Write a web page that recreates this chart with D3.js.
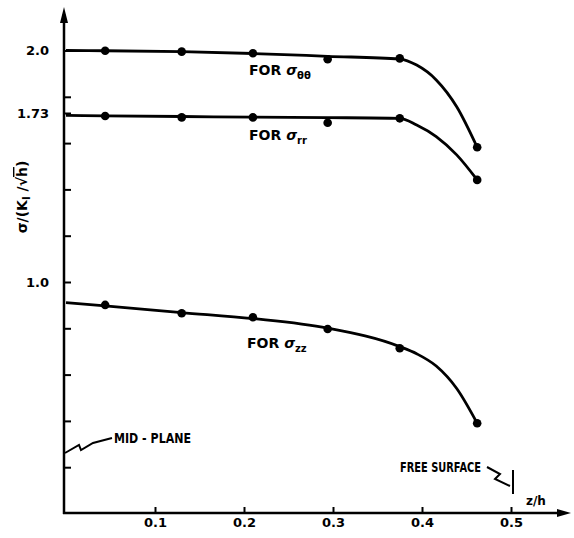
<!DOCTYPE html>
<html>
<head>
<meta charset="utf-8">
<script src="https://cdn.jsdelivr.net/npm/d3@7"></script>
<style>
  html, body { margin: 0; padding: 0; background: #fff; }
  svg { display: block; }
  text { font-family: "DejaVu Sans", "Liberation Sans", sans-serif; font-weight: bold; fill: #000; }
</style>
</head>
<body>
<svg id="chart" width="574" height="538"></svg>
<script>
// ---- data ----
const zPoints = [0.044, 0.130, 0.210, 0.294, 0.375, 0.462];
const sigmaThetaPoints = [1.999, 1.995, 1.988, 1.962, 1.966, 1.582];
const sigmaRRPoints    = [1.717, 1.711, 1.711, 1.688, 1.707, 1.441];
const sigmaZZPoints    = [0.901, 0.865, 0.848, 0.797, 0.714, 0.390];

// smooth fitted curves (as drawn in the figure)
const zCurve          = [0, 0.044, 0.130, 0.210, 0.294, 0.375, 0.394, 0.416, 0.439, 0.462];
const sigmaThetaCurve = [2.000, 1.999, 1.995, 1.987, 1.975, 1.963, 1.937, 1.873, 1.757, 1.582];
const sigmaRRCurve    = [1.720, 1.718, 1.715, 1.712, 1.710, 1.707, 1.678, 1.628, 1.549, 1.441];
const sigmaZZCurve    = [0.911, 0.897, 0.868, 0.842, 0.801, 0.721, 0.690, 0.637, 0.540, 0.390];

const xTickValues = [0.1, 0.2, 0.3, 0.4, 0.5];
const yTickValues = [0.2, 0.4, 0.6, 0.8, 1.0, 1.2, 1.4, 1.6, 1.73, 1.8, 2.0];
const yLabelledTicks = [1.0, 1.73, 2.0];

// ---- drawing ----
const svg = d3.select("#chart");
const x = d3.scaleLinear().domain([0, 0.5]).range([66, 511]);
const y = d3.scaleLinear().domain([0, 2.0]).range([513.5, 50.5]);
const axisX = 64, axisY = 513;

// x axis
const gx = svg.append("g").attr("transform", `translate(0,${axisY})`)
  .call(d3.axisBottom(x).tickValues(xTickValues).tickSizeInner(-6).tickSizeOuter(0)
        .tickPadding(5).tickFormat(d3.format(".1f")));
gx.select(".domain").remove();
gx.selectAll(".tick line").attr("stroke", "#000").attr("stroke-width", 2);
gx.selectAll(".tick text").attr("font-size", 13).attr("font-family", "DejaVu Sans").attr("font-weight", "bold");

// y axis
const gy = svg.append("g").attr("transform", `translate(${axisX},0)`)
  .call(d3.axisLeft(y).tickValues(yTickValues).tickSizeInner(-7).tickSizeOuter(0)
        .tickPadding(15)
        .tickFormat(d => yLabelledTicks.includes(d) ? (d === 1.73 ? "1.73" : d3.format(".1f")(d)) : ""));
gy.select(".domain").remove();
gy.selectAll(".tick line").attr("stroke", "#000").attr("stroke-width", 2);
gy.selectAll(".tick text").attr("font-size", 13).attr("font-family", "DejaVu Sans").attr("font-weight", "bold");

// axis lines with arrows
svg.append("line").attr("x1", axisX).attr("x2", axisX).attr("y1", axisY + 1).attr("y2", 14)
  .attr("stroke", "#000").attr("stroke-width", 2.5);
svg.append("path").attr("d", `M${axisX},7 L${axisX - 4},23 L${axisX + 4},23 Z`).attr("fill", "#000");
svg.append("line").attr("x1", axisX - 1).attr("x2", 562).attr("y1", axisY).attr("y2", axisY)
  .attr("stroke", "#000").attr("stroke-width", 2.5);
svg.append("path").attr("d", `M571,${axisY} L557,${axisY - 4} L557,${axisY + 4} Z`).attr("fill", "#000");

// curves
const line = d3.line().x(d => x(d[0])).y(d => y(d[1])).curve(d3.curveMonotoneX);
[sigmaThetaCurve, sigmaRRCurve, sigmaZZCurve].forEach(vals => {
  svg.append("path").datum(zCurve.map((z, i) => [z, vals[i]]))
    .attr("d", line).attr("fill", "none").attr("stroke", "#000").attr("stroke-width", 2.8);
});

// points
[sigmaThetaPoints, sigmaRRPoints, sigmaZZPoints].forEach(vals => {
  svg.append("g").selectAll("circle").data(zPoints.map((z, i) => [z, vals[i]])).join("circle")
    .attr("cx", d => x(d[0])).attr("cy", d => y(d[1])).attr("r", 4.3).attr("fill", "#000");
});

// series labels
function forLabel(px, py, sub) {
  const t = svg.append("text").attr("x", px).attr("y", py).attr("font-size", 14);
  t.append("tspan").text("FOR ");
  t.append("tspan").attr("font-style", "italic").text("σ");
  t.append("tspan").attr("font-size", 10).attr("dy", 4).attr("dx", 0).text(sub);
}
forLabel(249, 75, "θθ");
forLabel(249, 140, "rr");
forLabel(247, 348, "zz");

// y axis title
const yt = svg.append("text").attr("transform", "translate(27,197) rotate(-90)")
  .attr("text-anchor", "middle").attr("font-size", 14);
yt.append("tspan").text("σ/(K");
yt.append("tspan").attr("font-size", 10).attr("dy", 3).text("I");
yt.append("tspan").attr("dy", -3).text(" /√");
yt.append("tspan").attr("text-decoration", "overline").text("h");
yt.append("tspan").text(")");

// x axis title
svg.append("text").attr("x", 526).attr("y", 505).attr("font-size", 12).text("z/h");

// MID-PLANE annotation
svg.append("text").attr("x", 114).attr("y", 443).attr("font-size", 14)
  .attr("textLength", 77).attr("lengthAdjust", "spacingAndGlyphs").text("MID - PLANE");
svg.append("path").attr("d", "M65,453 L79,445 L81,450 L93,443 L112,438")
  .attr("fill", "none").attr("stroke", "#000").attr("stroke-width", 2);

// FREE SURFACE annotation
svg.append("text").attr("x", 400).attr("y", 472).attr("font-size", 14)
  .attr("textLength", 81).attr("lengthAdjust", "spacingAndGlyphs").text("FREE SURFACE");
svg.append("path").attr("d", "M487,467 L500,474 L495,479 L510,486")
  .attr("fill", "none").attr("stroke", "#000").attr("stroke-width", 2);
svg.append("line").attr("x1", x(0.5) + 2).attr("x2", x(0.5) + 2).attr("y1", 470).attr("y2", 494)
  .attr("stroke", "#000").attr("stroke-width", 2);
</script>
</body>
</html>
